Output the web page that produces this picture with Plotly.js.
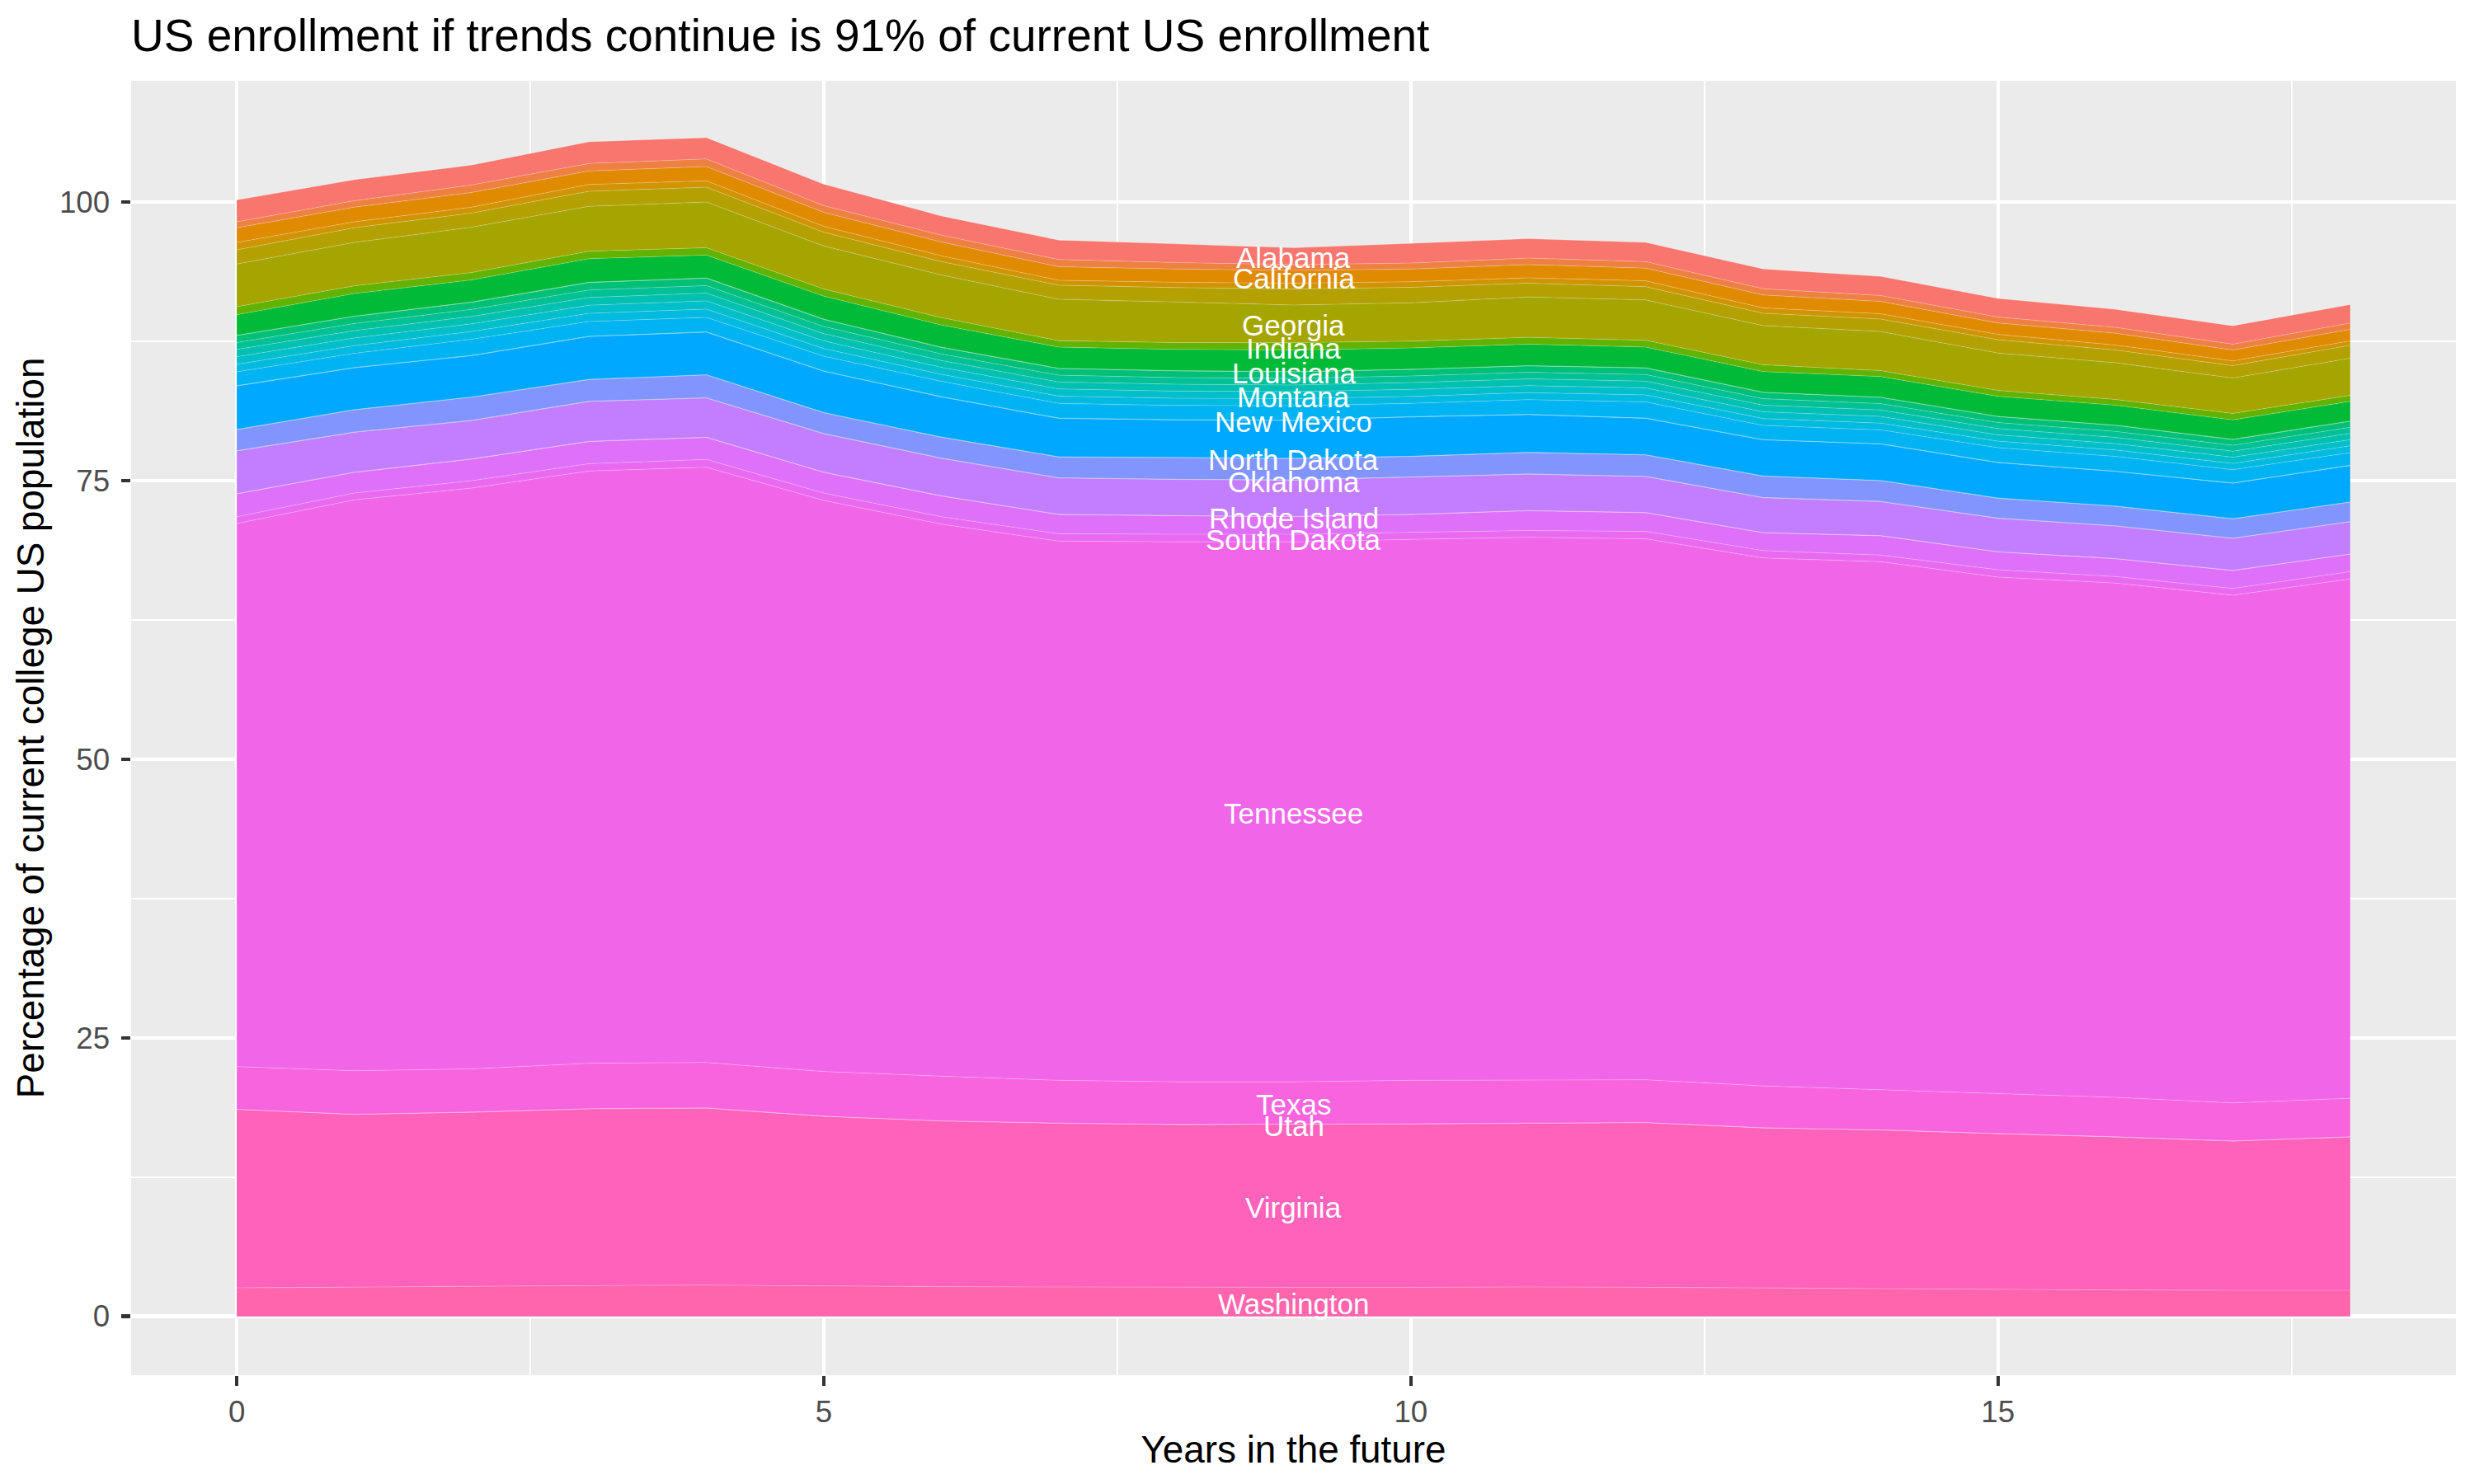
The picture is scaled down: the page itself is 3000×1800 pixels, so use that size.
<!DOCTYPE html>
<html>
<head>
<meta charset="utf-8">
<script src="https://cdn.plot.ly/plotly-3.0.1.min.js"></script>
<style>html,body{margin:0;padding:0;background:#ffffff;}</style>
</head>
<body>
<div id="chart" style="width:3000px;height:1800px;"></div>
<script>
// ---------- data ----------
const years = [0,1,2,3,4,5,6,7,8,9,10,11,12,13,14,15,16,17,18];

// factor levels (alphabetical) used by the hue palette
const stateLevels = ["Alabama","Alaska","Arizona","Arkansas","California","Colorado","Connecticut","Delaware",
  "District of Columbia","Florida","Georgia","Hawaii","Idaho","Illinois","Indiana","Iowa","Kansas","Kentucky",
  "Louisiana","Maine","Maryland","Massachusetts","Michigan","Minnesota","Mississippi","Missouri","Montana",
  "Nebraska","Nevada","New Hampshire","New Jersey","New Mexico","New York","North Carolina","North Dakota",
  "Ohio","Oklahoma","Oregon","Pennsylvania","Rhode Island","South Carolina","South Dakota","Tennessee","Texas",
  "Utah","Vermont","Virginia","Washington","West Virginia","Wisconsin","Wyoming"];

// percentage of current college US population, per year in the future
const alabama      = [1.96,1.88,1.79,1.95,1.91,1.93,1.72,1.74,1.67,1.50,1.77,1.74,1.72,1.77,1.72,1.67,1.62,1.64,1.65];
const arizona      = [0.53,0.58,0.67,0.67,0.69,0.60,0.61,0.64,0.58,0.53,0.53,0.58,0.58,0.56,0.53,0.53,0.52,0.53,0.57];
const california   = [1.32,1.32,1.32,1.21,1.28,1.25,1.24,1.22,1.19,1.14,1.14,1.19,1.14,1.16,1.11,1.03,1.06,0.98,1.03];
const connecticut  = [0.66,0.53,0.53,0.61,0.57,0.53,0.53,0.44,0.48,0.53,0.50,0.48,0.53,0.48,0.47,0.48,0.45,0.42,0.40];
const florida      = [1.27,1.32,1.27,1.35,1.33,1.24,1.19,1.27,1.29,1.43,1.40,1.24,1.19,1.11,1.12,1.19,1.14,1.11,1.16];
const georgia      = [3.83,3.89,4.07,4.04,4.10,3.86,3.83,3.71,3.65,3.38,3.44,3.62,3.62,3.51,3.51,3.36,3.30,3.18,3.33];
const indiana      = [0.72,0.69,0.66,0.66,0.66,0.63,0.66,0.58,0.61,0.66,0.61,0.61,0.61,0.61,0.53,0.52,0.51,0.58,0.54];
const kentucky     = [1.85,2.03,1.98,2.12,2.05,2.07,1.99,1.90,1.90,1.93,1.90,1.93,1.85,1.85,1.85,1.80,1.79,1.74,1.76];
const louisiana    = [0.03,0.03,0.03,0.03,0.03,0.03,0.03,0.03,0.03,0.03,0.03,0.03,0.03,0.03,0.03,0.03,0.03,0.03,0.03];
const maryland     = [0.62,0.63,0.63,0.66,0.66,0.63,0.58,0.59,0.59,0.58,0.58,0.57,0.58,0.56,0.55,0.53,0.53,0.51,0.54];
const michigan     = [0.62,0.64,0.64,0.67,0.67,0.64,0.59,0.61,0.60,0.60,0.59,0.59,0.59,0.58,0.57,0.54,0.54,0.53,0.54];
const mississippi  = [0.65,0.66,0.66,0.70,0.70,0.66,0.61,0.62,0.62,0.59,0.61,0.61,0.61,0.59,0.58,0.56,0.56,0.54,0.57];
const montana      = [0.68,0.69,0.69,0.73,0.74,0.68,0.63,0.65,0.64,0.63,0.63,0.62,0.63,0.61,0.60,0.57,0.57,0.56,0.54];
const nevada       = [0.68,0.69,0.69,0.73,0.74,0.69,0.63,0.65,0.65,0.64,0.63,0.63,0.63,0.62,0.61,0.58,0.58,0.56,0.62];
const newJersey    = [1.24,1.27,1.45,1.32,1.30,1.32,1.37,1.32,1.27,1.30,1.19,1.32,1.45,1.27,1.24,1.32,1.32,1.19,1.13];
const newMexico    = [0.03,0.03,0.03,0.03,0.03,0.03,0.03,0.03,0.03,0.03,0.03,0.03,0.03,0.03,0.03,0.03,0.03,0.03,0.03];
const newYork      = [3.89,3.75,3.70,3.84,3.81,3.70,3.60,3.44,3.35,3.38,3.52,3.38,3.25,3.23,3.26,3.17,3.10,3.17,3.26];
const northDakota  = [0.03,0.03,0.03,0.03,0.03,0.03,0.03,0.03,0.03,0.03,0.03,0.03,0.03,0.03,0.03,0.03,0.03,0.03,0.03];
const ohio         = [1.88,1.98,2.07,1.93,2.04,1.85,1.85,1.85,1.93,1.91,1.82,1.91,1.91,1.90,1.85,1.77,1.74,1.72,1.73];
const oklahoma     = [0.03,0.03,0.03,0.03,0.03,0.03,0.03,0.03,0.03,0.03,0.03,0.03,0.03,0.03,0.03,0.03,0.03,0.03,0.03];
const pennsylvania = [3.83,3.57,3.43,3.57,3.51,3.44,3.36,3.25,3.23,3.25,3.33,3.25,3.22,3.12,3.04,2.99,2.91,2.86,2.88];
const rhodeIsland  = [0.03,0.03,0.03,0.03,0.03,0.03,0.03,0.03,0.03,0.03,0.03,0.03,0.03,0.03,0.03,0.03,0.03,0.03,0.03];
const southCarolina= [2.04,1.85,1.93,1.98,1.97,1.85,1.85,1.72,1.66,1.58,1.59,1.77,1.67,1.59,1.72,1.59,1.59,1.60,1.56];
const southDakota  = [0.61,0.61,0.66,0.66,0.70,0.66,0.66,0.66,0.67,0.67,0.63,0.61,0.66,0.66,0.60,0.66,0.58,0.60,0.66];
const tennessee    = [48.74,51.23,52.12,53.15,53.42,51.25,49.55,48.39,48.46,48.46,48.55,48.68,48.55,47.38,47.36,46.35,46.16,45.57,46.60];
const texas        = [3.82,3.90,3.87,4.07,4.07,4.00,4.00,3.83,3.82,3.82,3.90,3.88,3.83,3.75,3.62,3.58,3.53,3.40,3.45];
const utah         = [0.03,0.03,0.03,0.03,0.03,0.03,0.03,0.03,0.03,0.03,0.03,0.03,0.03,0.03,0.03,0.03,0.03,0.03,0.03];
const virginia     = [16.00,15.47,15.62,15.85,15.87,15.23,14.86,14.68,14.59,14.59,14.64,14.68,14.76,14.36,14.24,13.99,13.72,13.38,13.75];
const washington   = [2.56,2.64,2.69,2.76,2.81,2.71,2.66,2.64,2.61,2.61,2.61,2.64,2.61,2.54,2.47,2.39,2.37,2.34,2.34];

// states in the data, in factor order (first level drawn on top of the stack)
const stateSeries = [
  ["Alabama", alabama], ["Arizona", arizona], ["California", california], ["Connecticut", connecticut],
  ["Florida", florida], ["Georgia", georgia], ["Indiana", indiana], ["Kentucky", kentucky],
  ["Louisiana", louisiana], ["Maryland", maryland], ["Michigan", michigan], ["Mississippi", mississippi],
  ["Montana", montana], ["Nevada", nevada], ["New Jersey", newJersey], ["New Mexico", newMexico],
  ["New York", newYork], ["North Dakota", northDakota], ["Ohio", ohio], ["Oklahoma", oklahoma],
  ["Pennsylvania", pennsylvania], ["Rhode Island", rhodeIsland], ["South Carolina", southCarolina],
  ["South Dakota", southDakota], ["Tennessee", tennessee], ["Texas", texas], ["Utah", utah],
  ["Virginia", virginia], ["Washington", washington]
];

const labeledStates = ["Alabama","California","Georgia","Indiana","Louisiana","Montana","New Mexico",
  "North Dakota","Oklahoma","Rhode Island","South Dakota","Tennessee","Texas","Utah","Virginia","Washington"];
const labelYear = 9;

const xTicks = [0, 5, 10, 15];
const yTicks = [0, 25, 50, 75, 100];

// ---------- ggplot2-like hue palette (hcl, c=100, l=65) ----------
function hcl2hex(h, c, l) {
  const WY = 100.0, Wu = 0.1978398, Wv = 0.4683363;
  const hr = h * Math.PI / 180;
  const U = c * Math.cos(hr), V = c * Math.sin(hr);
  const Y = WY * (l > 7.999592 ? Math.pow((l + 16) / 116, 3) : l / 903.3);
  const u = U / (13 * l) + Wu, v = V / (13 * l) + Wv;
  const X = 9.0 * Y * u / (4 * v);
  const Z = -X / 3 - 5 * Y + 3 * Y / v;
  const gt = t => t > 0.00304 ? 1.055 * Math.pow(t, 1 / 2.4) - 0.055 : 12.92 * t;
  const r = gt(( 3.240479 * X - 1.537150 * Y - 0.498535 * Z) / WY);
  const g = gt((-0.969256 * X + 1.875992 * Y + 0.041556 * Z) / WY);
  const b = gt(( 0.055648 * X - 0.204043 * Y + 1.057311 * Z) / WY);
  const hx = t => { const k = Math.round(255 * Math.min(1, Math.max(0, t))); return k.toString(16).padStart(2, "0"); };
  return "#" + hx(r) + hx(g) + hx(b);
}
function levelColor(name) {
  const n = stateLevels.length, k = stateLevels.indexOf(name);
  return hcl2hex((15 + k * 360 / n) % 360, 100, 65);
}

// ---------- traces (plotly stacks first trace at the bottom) ----------
const bottomUp = stateSeries.slice().reverse();
const traces = bottomUp.map(([name, vals]) => ({
  type: "scatter", mode: "lines", x: years, y: vals, name: name,
  stackgroup: "states", fillcolor: levelColor(name),
  line: { width: 1, color: "rgba(255,255,255,0.25)" },
  hoverinfo: "name+y"
}));

// labels at the middle of each labelled layer, at year 9
const li = years.indexOf(labelYear);
const annotations = [];
let cum = 0;
bottomUp.forEach(([name, vals]) => {
  const v = vals[li];
  if (labeledStates.includes(name)) {
    annotations.push({
      x: labelYear, y: cum + v / 2, xref: "x", yref: "y", text: name, showarrow: false,
      xanchor: "center", yanchor: "middle", yshift: -2,
      font: { color: "#ffffff", size: 35, family: "Liberation Sans, Arial, sans-serif" }
    });
  }
  cum += v;
});

const fontFam = "Liberation Sans, Arial, Helvetica, sans-serif";
const layout = {
  width: 3000, height: 1800, autosize: false,
  margin: { l: 159, r: 22, t: 98, b: 132, pad: 0 },
  paper_bgcolor: "#ffffff", plot_bgcolor: "#EBEBEB",
  showlegend: false,
  font: { family: fontFam, color: "#000000" },
  title: {
    text: "US enrollment if trends continue is 91% of current US enrollment",
    font: { size: 55, color: "#000000", family: fontFam },
    x: 0, xref: "paper", xanchor: "left",
    y: 1 - 43 / 1800, yref: "container", yanchor: "middle"
  },
  xaxis: {
    range: [-0.9, 18.9], tickmode: "array", tickvals: xTicks, ticktext: xTicks.map(String),
    ticks: "outside", ticklen: 11.5, tickwidth: 4.4, tickcolor: "#333333",
    tickfont: { size: 36.7, color: "#4D4D4D", family: fontFam },
    ticklabelstandoff: 0,
    showgrid: true, gridcolor: "#ffffff", gridwidth: 4.4,
    minor: { tickmode: "array", tickvals: [2.5, 7.5, 12.5, 17.5], showgrid: true, gridcolor: "#ffffff", gridwidth: 2.2, ticks: "" },
    zeroline: false, showline: false, fixedrange: true,
    title: { text: "Years in the future", font: { size: 45.8, color: "#000000", family: fontFam }, standoff: 0 }
  },
  yaxis: {
    range: [-5.28, 110.88], tickmode: "array", tickvals: yTicks, ticktext: yTicks.map(String),
    ticks: "outside", ticklen: 11.5, tickwidth: 4.4, tickcolor: "#333333",
    tickfont: { size: 36.7, color: "#4D4D4D", family: fontFam },
    ticklabelstandoff: 6,
    showgrid: true, gridcolor: "#ffffff", gridwidth: 4.4,
    minor: { tickmode: "array", tickvals: [12.5, 37.5, 62.5, 87.5], showgrid: true, gridcolor: "#ffffff", gridwidth: 2.2, ticks: "" },
    zeroline: false, showline: false, fixedrange: true,
    title: { text: "Percentage of current college US population", font: { size: 45.8, color: "#000000", family: fontFam }, standoff: 3 }
  },
  annotations: annotations
};

Plotly.newPlot("chart", traces, layout, { displayModeBar: false, staticPlot: true });
</script>
</body>
</html>
